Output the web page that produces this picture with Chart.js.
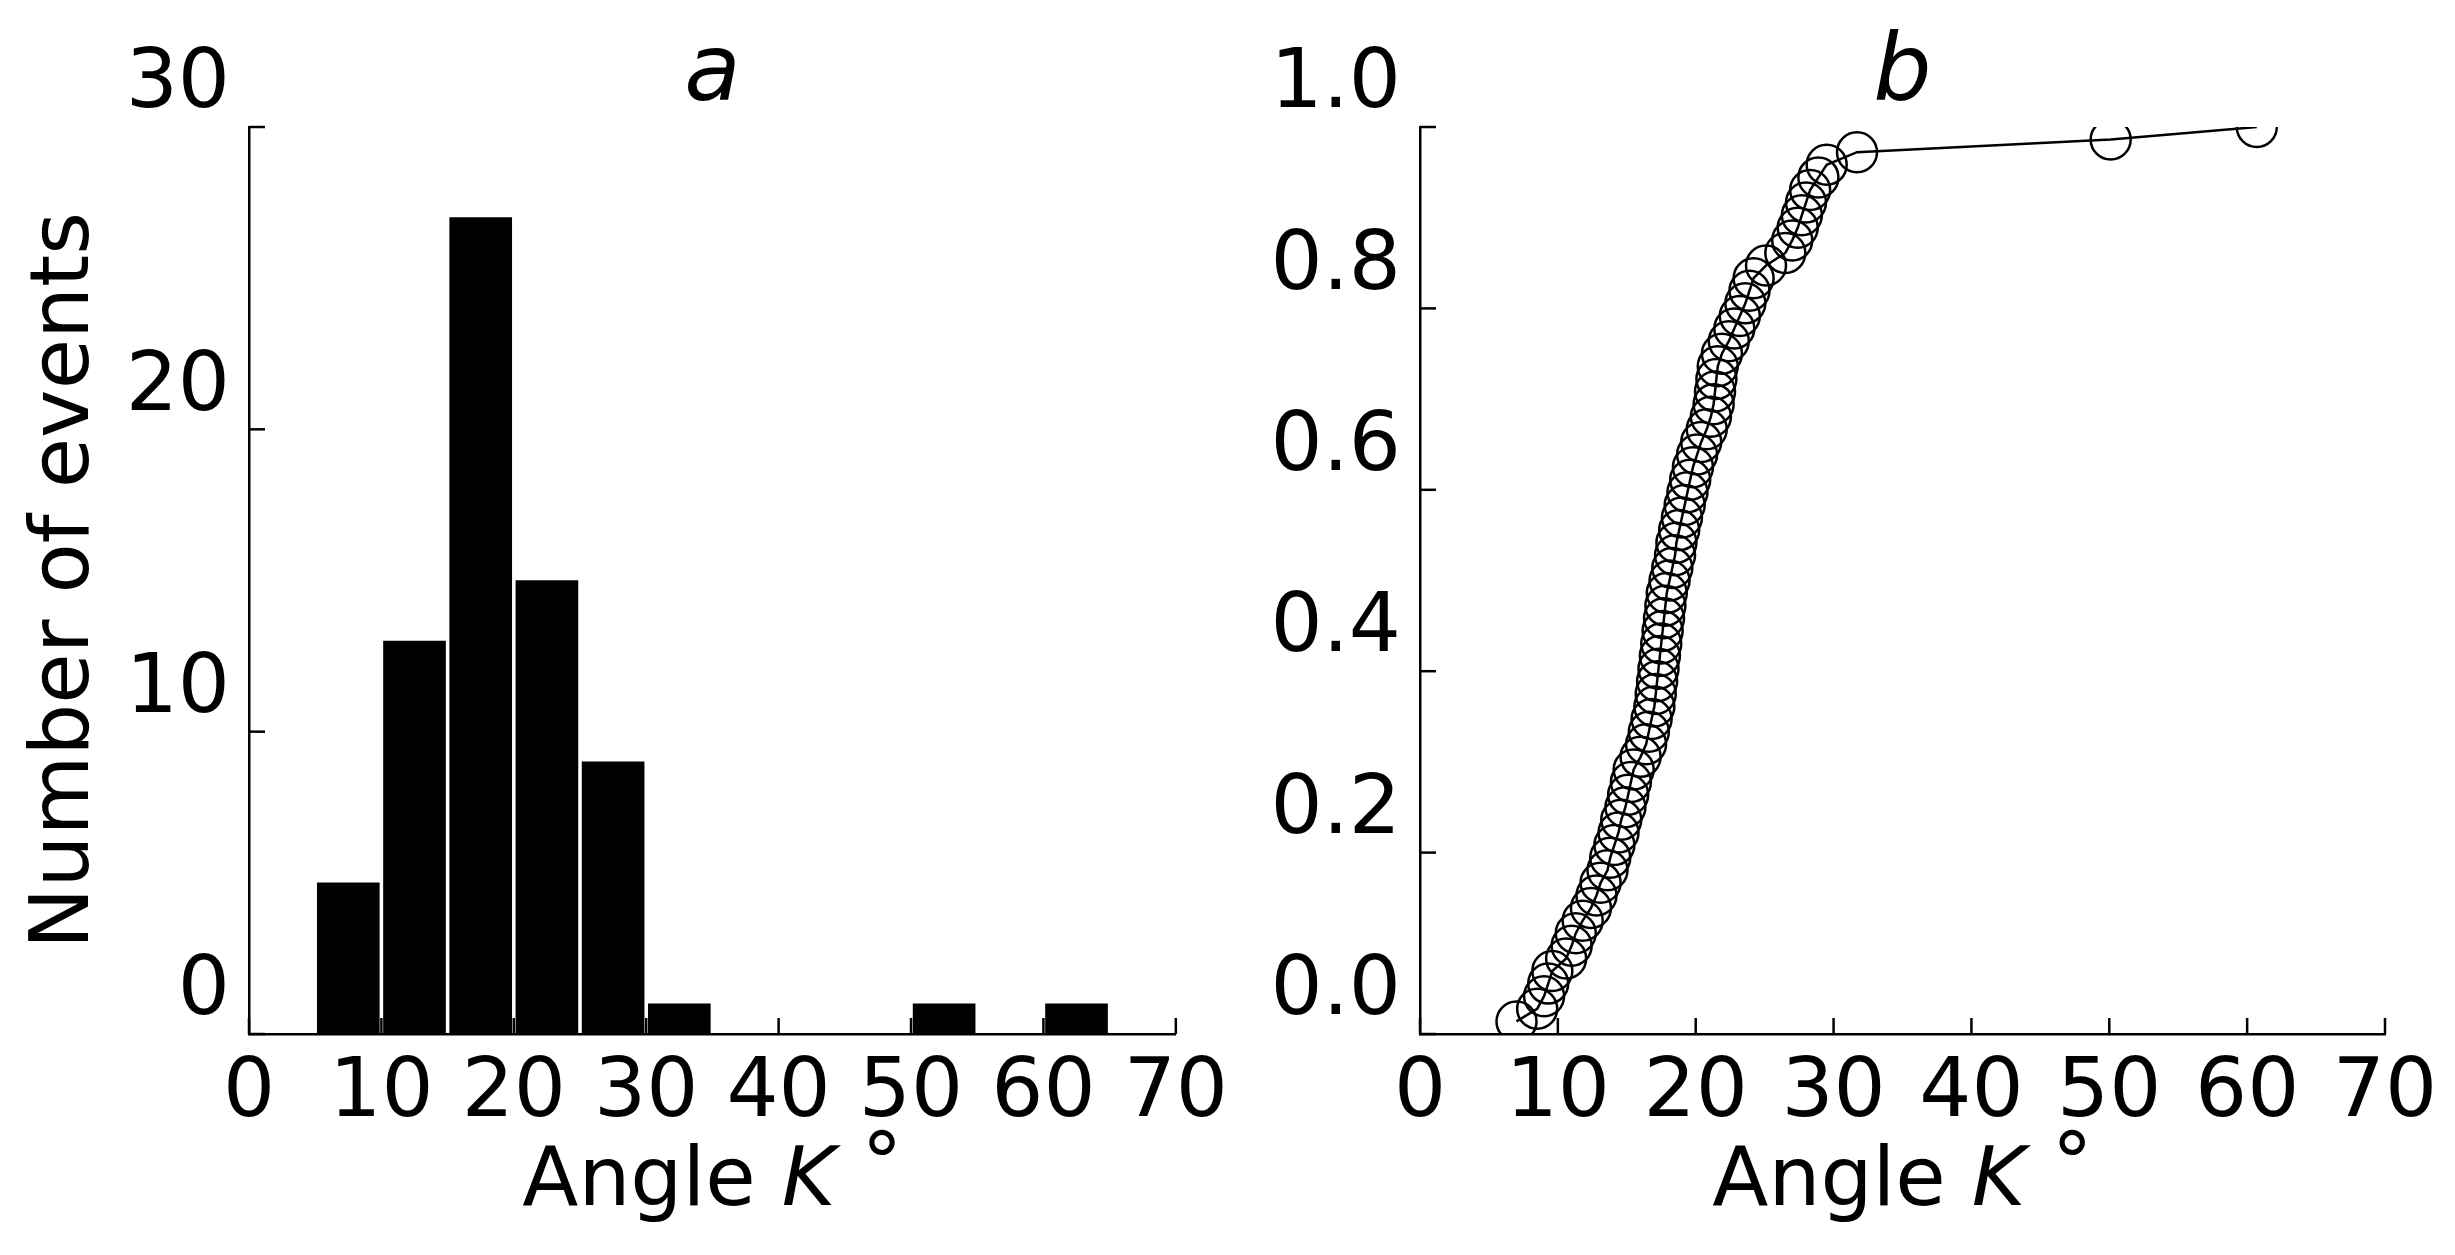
<!DOCTYPE html>
<html><head><meta charset="utf-8">
<script src="https://cdn.jsdelivr.net/npm/chart.js@4/dist/chart.umd.min.js"></script>
<style>
html,body{margin:0;padding:0;background:#fff;width:2455px;height:1255px;overflow:hidden}
.p{position:absolute;top:0;height:1255px}
</style></head><body>
<div class="p" style="left:0;width:1240px"><canvas id="ca"></canvas></div>
<div class="p" style="left:1240px;width:1215px"><canvas id="cb"></canvas></div>
<script>
const binCenters = [7.5, 12.5, 17.5, 22.5, 27.5, 32.5, 52.5, 62.5];
const binCounts  = [5, 13, 27, 15, 9, 1, 1, 1];
const sortedAngles = [7.0, 8.5, 9.0, 9.3, 9.6,
  10.6, 11.0, 11.3, 11.8, 12.4, 12.8, 13.1, 13.6, 13.8, 14.1, 14.4, 14.6, 14.9,
  15.1, 15.3, 15.5, 16.0, 16.4, 16.6, 16.8, 17.0, 17.1, 17.2, 17.3, 17.4, 17.5, 17.6, 17.7, 17.8, 17.9, 18.1, 18.3, 18.5, 18.6, 18.8, 19.0, 19.2, 19.4, 19.6, 19.8,
  20.1, 20.4, 20.8, 21.1, 21.3, 21.4, 21.5, 21.6, 21.9, 22.4, 22.8, 23.2, 23.6, 23.9, 24.2,
  25.1, 26.5, 27.0, 27.4, 27.7, 28.0, 28.3, 28.9, 29.5,
  31.7, 50.1, 60.7];
const xTicks = [0,10,20,30,40,50,60,70];

const FONT = 'DejaVu Sans';
const FS = 82;
const inTicks = {
  id:'inTicks',
  afterDraw(chart){
    const ctx = chart.ctx, a = chart.chartArea;
    ctx.save(); ctx.strokeStyle='#000'; ctx.lineWidth=2.5;
    const xs = chart.scales.x, ys = chart.scales.y;
    xs.ticks.forEach((t,i)=>{const px=xs.getPixelForTick(i);ctx.beginPath();ctx.moveTo(px,a.bottom);ctx.lineTo(px,a.bottom-16);ctx.stroke();});
    ys.ticks.forEach((t,i)=>{const py=ys.getPixelForTick(i);ctx.beginPath();ctx.moveTo(a.left,py);ctx.lineTo(a.left+16,py);ctx.stroke();});
    // x axis title with italic K
    const cx=(a.left+a.right)/2, cy=1184;
    const p1='Angle ', p2='K', p3=' °';
    ctx.fillStyle='#000'; ctx.textBaseline='middle'; ctx.textAlign='left';
    ctx.font=FS+'px '+FONT; const w1=ctx.measureText(p1).width, w3=ctx.measureText(p3).width;
    ctx.font='italic '+FS+'px '+FONT; const w2=ctx.measureText(p2).width;
    let x0=cx-(w1+w2+w3)/2;
    ctx.font=FS+'px '+FONT; ctx.fillText(p1,x0,cy);
    ctx.font='italic '+FS+'px '+FONT; ctx.fillText(p2,x0+w1,cy);
    ctx.font=FS+'px '+FONT; ctx.fillText(p3,x0+w1+w2,cy-14);
    ctx.restore();
  }
};
function fixSize(w){return s=>{s.width=w;};}
function fixH(h){return s=>{s.height=h;};}
function xScale(){
  return {type:'linear',min:0,max:70,offset:false,
    afterBuildTicks:s=>{s.ticks=xTicks.map(v=>({value:v}));},
    afterFit:fixH(221),
    grid:{display:false,drawTicks:false,offset:false},
    border:{display:true,color:'#000',width:2.5},
    ticks:{color:'#000',font:{family:FONT,size:FS},padding:12,maxRotation:0,autoSkip:false},
    title:{display:false}};
}
function ttl(letter){return {id:'ttl',afterDraw(c){const x=c.ctx;x.save();x.font='italic 92px '+FONT;x.fillStyle='#000';x.textAlign='center';x.textBaseline='middle';x.fillText(letter,(c.chartArea.left+c.chartArea.right)/2,76);x.restore();}};}
Chart.defaults.animation=false;
new Chart(document.getElementById('ca'),{
  type:'bar',
  data:{datasets:[{data:binCenters.map((c,i)=>({x:c,y:binCounts[i]})),backgroundColor:'#000',barThickness:62}]},
  options:{responsive:true,maintainAspectRatio:false,
    layout:{padding:{top:127,right:27,left:0,bottom:0}},
    plugins:{legend:{display:false},tooltip:{enabled:false}},
    scales:{x:xScale(),
      y:{min:0,max:30,afterFit:fixSize(249),
        grid:{display:false,drawTicks:false},border:{display:true,color:'#000',width:2.5},
        ticks:{stepSize:10,color:'#000',font:{family:FONT,size:FS},padding:19,labelOffset:-41},
        title:{display:true,text:'Number of events',color:'#000',font:{family:FONT,size:FS},padding:{top:18,bottom:0}}}}},
  plugins:[inTicks,ttl('a')]
});
new Chart(document.getElementById('cb'),{
  type:'line',
  data:{datasets:[{data:sortedAngles.map((v,i)=>({x:v,y:(i+1)/sortedAngles.length})),
    borderColor:'#000',borderWidth:2.5,pointRadius:20,pointBorderWidth:2.5,pointBorderColor:'#000',
    pointBackgroundColor:'rgba(0,0,0,0)',fill:false,tension:0,clip:0}]},
  options:{responsive:true,maintainAspectRatio:false,
    layout:{padding:{top:127,right:70,left:0,bottom:0}},
    plugins:{legend:{display:false},tooltip:{enabled:false}},
    scales:{x:xScale(),
      y:{min:0,max:1,afterFit:fixSize(180),
        grid:{display:false,drawTicks:false},border:{display:true,color:'#000',width:2.5},
        ticks:{stepSize:0.2,color:'#000',font:{family:FONT,size:FS},padding:19,labelOffset:-41,callback:v=>v.toFixed(1)},
        title:{display:false}}}},
  plugins:[inTicks,ttl('b')]
});
</script></body></html>
